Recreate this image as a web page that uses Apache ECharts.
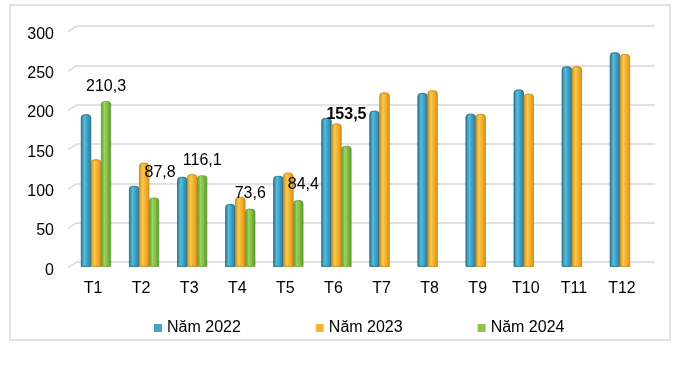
<!DOCTYPE html>
<html>
<head>
<meta charset="utf-8">
<script src="https://cdn.jsdelivr.net/npm/echarts@6/dist/echarts.min.js"></script>
<style>
html,body{margin:0;padding:0;background:#fff;}
#c{width:680px;height:366px;}
</style>
</head>
<body>
<div id="c"></div>
<script>
var categories = ['T1','T2','T3','T4','T5','T6','T7','T8','T9','T10','T11','T12'];
var seriesNames = ['Năm 2022','Năm 2023','Năm 2024'];
var values2022 = [193.5,102.5,114.0,79.3,115.2,189.0,198.0,220.5,194.2,225.0,254.4,272.2];
var values2023 = [136.2,131.9,117.4,88.5,119.2,181.8,221.3,223.9,194.0,219.6,254.6,270.0];
var values2024 = [210.3,87.8,116.1,73.6,84.4,153.5,null,null,null,null,null,null];
var yTicks = [0,50,100,150,200,250,300];

var FONT = 'Liberation Sans, Arial, sans-serif';

function cyl(dark, mid, light) {
  return new echarts.graphic.LinearGradient(0,0,1,0,[
    {offset:0,color:dark},{offset:0.35,color:light},{offset:0.6,color:mid},{offset:1,color:dark}
  ]);
}
var colors = [
  cyl('#2a7d99','#3fa3c4','#5cbad8'),
  cyl('#d9951a','#f6b12c','#fcc850'),
  cyl('#5e9a2c','#83bf45','#9ed462')
];
var legendColors = ['#4aa6c4','#f9b530','#8cc44c'];
var borderColors = ['#22708a','#c98a14','#548c27'];

var labelTweaks = [
  {offset:[0,0]},{offset:[6,-10]},{offset:[0,0]},{offset:[0,0]},{offset:[5,-1]},{offset:[0,-16],fontWeight:'bold'}
];
function fmt(v){ return v.toFixed(1).replace('.',','); }

var data2024 = values2024.map(function(v,i){
  if (v === null) return null;
  var t = labelTweaks[i] || {offset:[0,0]};
  return {value:v, label:{show:true, offset:t.offset, fontWeight:t.fontWeight||'normal'}};
});

var chart = echarts.init(document.getElementById('c'), null, {renderer:'canvas'});

function barSeries(idx, data) {
  return {
    name: seriesNames[idx], type:'bar', xAxisIndex:0, yAxisIndex:0,
    data: data, barWidth:10, barGap:'0%',
    itemStyle:{color:colors[idx], borderColor:borderColors[idx], borderWidth:0.6, borderRadius:[3,3,0,0]},
    label:{show:false, position:'top', distance:7, color:'#000', fontSize:16, fontFamily:FONT,
      formatter:function(p){return fmt(p.value);}}
  };
}

var option = {
  backgroundColor:'#fff',
  animation:false,
  legend:{
    data: seriesNames.map(function(n,i){return {name:n, itemStyle:{color:legendColors[i], borderWidth:0}};}),
    left:149, top:315, icon:'rect', itemWidth:8, itemHeight:8, itemGap:75,
    textStyle:{fontSize:16, fontFamily:FONT, color:'#000'}
  },
  grid:[
    {left:72, right:31, top:30.7, bottom:99.3},
    {left:77, right:25, top:26, bottom:104}
  ],
  xAxis:[
    {type:'category', gridIndex:0, data:categories,
     axisLine:{show:false}, axisTick:{show:false},
     axisLabel:{fontSize:16, fontFamily:FONT, color:'#000', margin:14, padding:[0,6,0,0]}},
    {type:'value', gridIndex:1, show:false, min:0, max:1}
  ],
  yAxis:[
    {type:'value', gridIndex:0, min:0, max:300, interval:50,
     axisLine:{show:false}, axisTick:{show:false}, splitLine:{show:false},
     axisLabel:{margin:18, formatter:'{a|{value}}',
       rich:{a:{fontSize:16, fontFamily:FONT, color:'#000', padding:[7,0,0,0]}}}},
    {type:'value', gridIndex:1, min:0, max:300, interval:50,
     axisLine:{show:false}, axisTick:{show:false}, axisLabel:{show:false},
     splitLine:{show:true, lineStyle:{color:'#d9d9d9', width:1.5}}}
  ],
  series:[
    barSeries(0, values2022),
    barSeries(1, values2023),
    barSeries(2, data2024)
  ],
  graphic:[
    {type:'rect', shape:{x:10, y:5, width:660, height:335}, style:{fill:'none', stroke:'#d9d9d9', lineWidth:1.5}, silent:true, z:-1}
  ]
};
chart.setOption(option);

var stubs = yTicks.map(function(v){
  var f = chart.convertToPixel({yAxisIndex:0}, v);
  var b = chart.convertToPixel({yAxisIndex:1}, v);
  return {type:'line', shape:{x1:68, y1:f+1, x2:77, y2:b}, style:{stroke:'#d9d9d9', lineWidth:1.5}, silent:true};
});
chart.setOption({graphic: option.graphic.concat(stubs)});
</script>
</body>
</html>
